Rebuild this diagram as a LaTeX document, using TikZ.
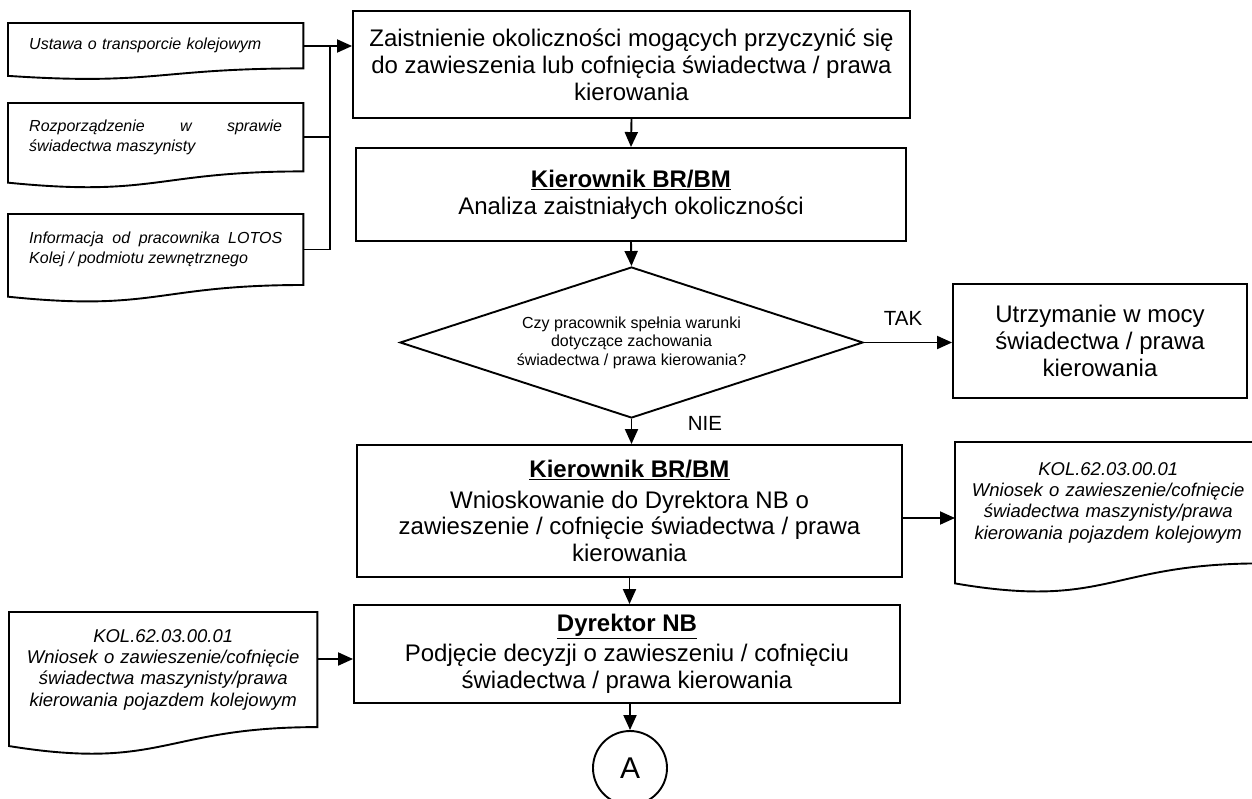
\documentclass[tikz,border=0pt]{standalone}
\usepackage{fontspec}
\setmainfont{Liberation Sans}
\usetikzlibrary{arrows.meta,calc,shapes.geometric}
\hyphenpenalty=10000
\exhyphenpenalty=10000
\tolerance=10000
\hbadness=10000
\tikzset{
  box/.style={draw, line width=1.9pt, rectangle, align=center, inner sep=0pt,
    font=\fontsize{24}{26.8}\selectfont},
  doc/.style={rectangle, anchor=north west, inner ysep=0pt,
    font=\fontsize{16}{19.5}\selectfont\itshape},
  kdoc/.style={rectangle, anchor=north west, inner ysep=0pt, align=center,
    font=\fontsize{18.5}{21.3}\selectfont\itshape},
  arr/.style={line width=1.9pt, -{Triangle[length=15pt,width=13pt]}},
  ln/.style={line width=1.9pt},
  lbl/.style={font=\fontsize{20.5}{24}\selectfont, inner sep=0pt},
}
\newcommand\docoutline[1]{\draw[line width=1.9pt, line join=miter]
  (#1.north west) -- (#1.north east) -- (#1.south east)
  .. controls (#1.south) and ($(#1.north)!1.381!(#1.south)$) ..
  ($(#1.north west)!1.1646!(#1.south west)$) -- cycle;}
\begin{document}
\begin{tikzpicture}[x=1pt,y=-1pt]
\useasboundingbox (0,0) rectangle (1252,798);
\clip (0,0) rectangle (1252,798);

% left input documents
\node[doc, text width=253pt, inner xsep=21pt, minimum width=295pt, minimum height=45pt, align=left]
  (ust) at (8,23) {Ustawa o transporcie kolejowym};
\node[doc, text width=253pt, inner xsep=21pt, minimum width=295pt, minimum height=68pt, align=justify]
  (rozp) at (8,103) {Rozporządzenie w sprawie\linebreak świadectwa maszynisty};
\node[doc, text width=253pt, inner xsep=21pt, minimum width=295pt, minimum height=70.6pt, align=justify]
  (inf) at (8,214) {Informacja od pracownika LOTOS\linebreak Kolej / podmiotu zewnętrznego};
\docoutline{ust}
\docoutline{rozp}
\docoutline{inf}

% main column
\node[box, minimum width=557pt, minimum height=107pt] (b1) at (631.5,64.5)
  {Zaistnienie okoliczności mogących przyczynić się\\ do zawieszenia lub cofnięcia świadectwa / prawa\\ kierowania};
\node[box, minimum width=550pt, minimum height=93pt] (b2) at (631,194.5)
  {\textbf{\underline{Kierownik BR/BM}}\\ Analiza zaistniałych okoliczności};
\node[draw, line width=1.9pt, diamond, aspect=3, inner sep=0pt, minimum width=463pt, minimum height=151pt,
  align=center, font=\fontsize{16}{18.4}\selectfont] (dia) at (631.5,342.5)
  {Czy pracownik spełnia warunki\\ dotyczące zachowania\\ świadectwa / prawa kierowania?};
\node[box, minimum width=294pt, minimum height=114pt] (utr) at (1100,341)
  {Utrzymanie w mocy\\ świadectwa / prawa\\ kierowania};
\node[box, minimum width=545pt, minimum height=132pt] (b3) at (629.5,511)
  {\textbf{\underline{Kierownik BR/BM}}\\[4pt] Wnioskowanie do Dyrektora NB o\\ zawieszenie / cofnięcie świadectwa / prawa\\ kierowania};
\node[box, minimum width=546pt, minimum height=98pt] (b4) at (627,654)
  {\textbf{\underline{Dyrektor NB}}\\[3pt] Podjęcie decyzji o zawieszeniu / cofnięciu\\ świadectwa / prawa kierowania};
\node[draw, line width=1.9pt, circle, minimum size=74pt, inner sep=0pt,
  font=\fontsize{30}{34}\selectfont] (circ) at (630,768) {A};

% KOL documents
\node[kdoc, text width=280pt, inner xsep=13pt, minimum width=306pt, minimum height=121pt]
  (kolr) at (955,442) {KOL.62.03.00.01\\ Wniosek o zawieszenie/cofnięcie\\ świadectwa maszynisty/prawa\\ kierowania pojazdem kolejowym};
\node[kdoc, text width=280pt, inner xsep=14pt, minimum width=308pt, minimum height=114.7pt]
  (koll) at (9,612) {KOL.62.03.00.01\\ Wniosek o zawieszenie/cofnięcie\\ świadectwa maszynisty/prawa\\ kierowania pojazdem kolejowym};
\docoutline{kolr}
\docoutline{koll}

% labels
\node[lbl] (tak) at (903,318) {TAK};
\node[lbl] (nie) at (705,423) {NIE};

% connectors
\coordinate (j) at (330,46);
\draw[ln] (ust.east) -- (ust.east -| j) -- (j);
\draw[ln] (rozp.east) -| (j);
\draw[ln] (inf.east) -| (j);
\draw[arr] (j) -- (b1.west |- j);
\draw[arr] (b1.south) -- (b2.north);
\draw[arr] (b2.south) -- (dia.north);
\draw[arr] (dia.east) -- (utr.west |- dia.east);
\draw[arr] (dia.south) -- (b3.north -| dia.south);
\draw[arr] ([yshift=-7pt]b3.east) -- ([yshift=-7pt]b3.east -| kolr.west);
\draw[arr] (b3.south) -- (b4.north -| b3.south);
\draw[arr] ([yshift=-5pt]b4.west -| koll.east) -- ([yshift=-5pt]b4.west);
\draw[arr] (b4.south -| circ.north) -- (circ.north);
\end{tikzpicture}
\end{document}
